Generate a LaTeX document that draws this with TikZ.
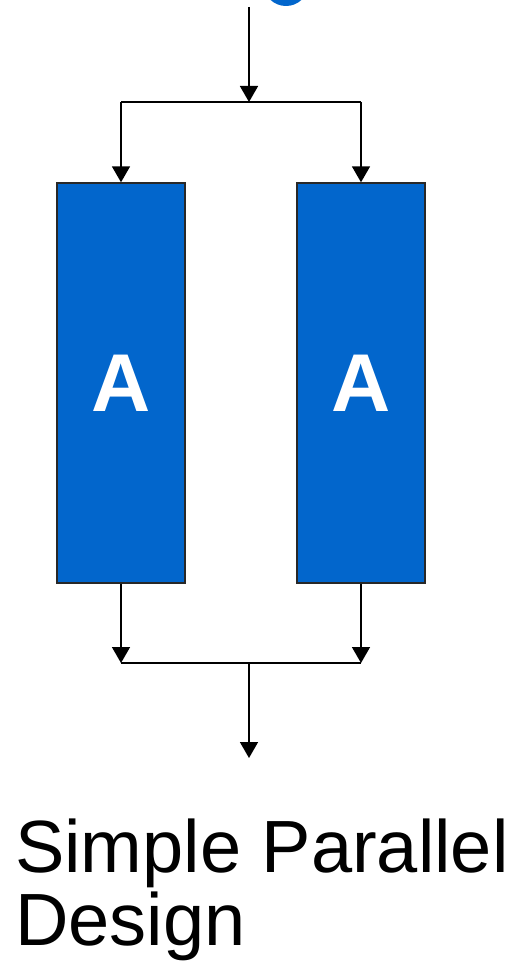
\documentclass[tikz,border=0pt]{standalone}
\usepackage{fontspec}
\setmainfont{Liberation Sans}
\usetikzlibrary{arrows.meta}
\definecolor{boxblue}{RGB}{2,102,204}
\definecolor{boxedge}{RGB}{40,40,40}
\begin{document}
\begin{tikzpicture}[x=1pt,y=-1pt,
  conn/.style={line width=1.6pt,draw=black},
  arr/.style={conn,-{Triangle[length=16pt,width=18pt]}},
  unitbox/.style={draw=boxedge,line width=1.4pt,fill=boxblue,minimum width=128pt,minimum height=400pt,inner sep=0pt,
    font=\fontsize{82}{82}\selectfont\bfseries,text=white},
  caption/.style={font=\fontsize{74}{73}\selectfont,align=left,inner sep=0pt}]
\useasboundingbox (0,0) rectangle (514,979);
\begin{scope}
\clip (0,0) rectangle (514,979);
\fill[boxblue] (286,-14) ellipse [x radius=21.5, y radius=20];
\end{scope}
\node[unitbox] (left) at (121,383) {A};
\node[unitbox] (right) at (361,383) {A};
\coordinate (top) at (249,7);
\coordinate (split) at (249,102);
\coordinate (splitL) at (121,102);
\coordinate (splitR) at (361,102);
\coordinate (joinL) at (121,663);
\coordinate (joinR) at (361,663);
\coordinate (join) at (249,663);
\coordinate (out) at (249,758);
\draw[arr] (top) -- (split);
\draw[conn] (splitL) -- (splitR);
\draw[arr] (splitL) -- (left.north);
\draw[arr] (splitR) -- (right.north);
\draw[arr] (left.south) -- (joinL);
\draw[arr] (right.south) -- (joinR);
\draw[conn] (joinL) -- (joinR);
\draw[arr] (join) -- (out);
\node[caption,anchor=base west] (cap1) at (15,872) {Simple Parallel};
\node[caption,anchor=base west] (cap2) at (15,945) {Design};
\end{tikzpicture}
\end{document}
